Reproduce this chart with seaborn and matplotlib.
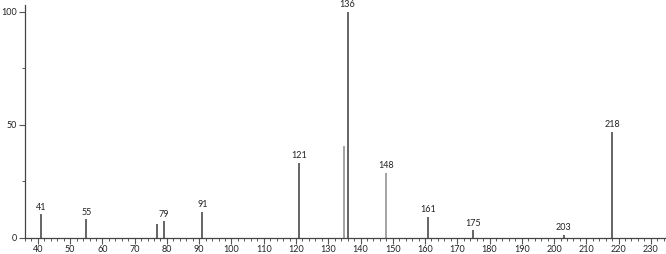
import matplotlib
matplotlib.use("Agg")
import matplotlib.pyplot as plt
from matplotlib.ticker import MultipleLocator
import seaborn as sns

mz = [41, 55, 77, 79, 91, 121, 135, 136, 148, 161, 175, 203, 218]
intensity = [10.2, 8.1, 6.2, 7.1, 11.4, 33.1, 40.5, 100, 28.5, 9.1, 3.2, 1.3, 46.9]
labelled = [41, 55, 79, 91, 121, 136, 148, 161, 175, 203, 218]
light = [135, 148]

sns.set_style("ticks")
plt.rcParams['font.family'] = ['Lato', 'DejaVu Sans']

fig = plt.figure(figsize=(6.66, 2.54), dpi=100)
ax = fig.add_axes([25/666, 16.5/254, 1 - 25/666, (237.5 - 5)/254])

colors = ["#8a8a8a" if m in light else "#3a3a3a" for m in mz]
ax.vlines(mz, 0, intensity, colors=colors, linewidth=1.1)

for m, v in zip(mz, intensity):
    if m in labelled:
        ax.text(m, v + 1.2, str(m), ha="center", va="bottom", fontsize=6.5, color="#222222")

ax.set_xlim(36.0, 234.7)
ax.set_ylim(0, 103)
ax.xaxis.set_major_locator(MultipleLocator(10))
ax.xaxis.set_minor_locator(MultipleLocator(2))
ax.set_yticks([0, 50, 100])
ax.yaxis.set_minor_locator(MultipleLocator(25))
ax.tick_params(axis="both", which="major", labelsize=6.5, length=4, width=0.8,
               color="#555555", labelcolor="#222222", pad=1.5)
ax.tick_params(axis="both", which="minor", length=2.5, width=0.7, color="#555555")
for s in ["top", "right"]:
    ax.spines[s].set_visible(False)
for s in ["left", "bottom"]:
    ax.spines[s].set_color("#444444")
    ax.spines[s].set_linewidth(0.9)
ax.set_xlabel("")
ax.set_ylabel("")

fig.savefig("out.png", dpi=100)
